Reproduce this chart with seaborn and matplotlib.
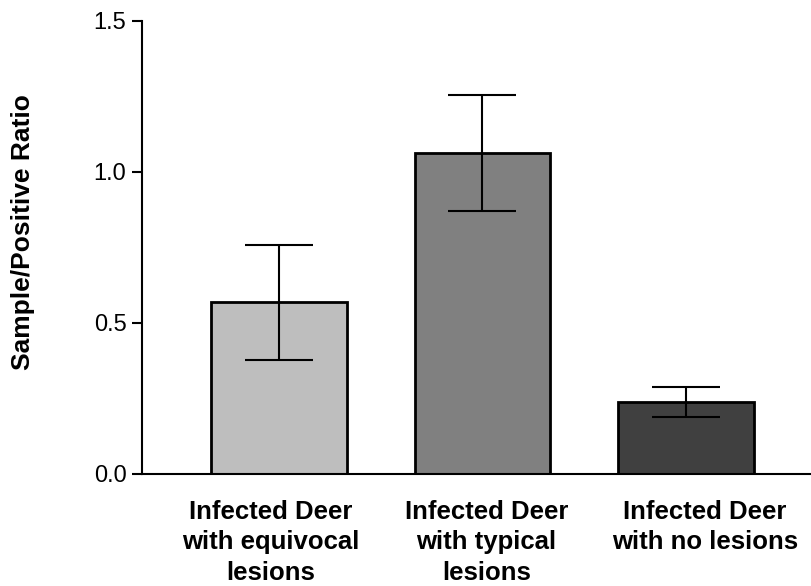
import matplotlib
matplotlib.use("Agg")
import matplotlib.pyplot as plt
import matplotlib.transforms as mtransforms
import seaborn as sns
import pandas as pd
import numpy as np

categories = ["Infected Deer\nwith equivocal\nlesions",
              "Infected Deer\nwith typical\nlesions",
              "Infected Deer\nwith no lesions"]
means = [0.569, 1.062, 0.239]
err_low = [0.378, 0.869, 0.190]
err_high = [0.758, 1.255, 0.287]
bar_colors = ["#bebebe", "#808080", "#404040"]
y_ticks = [0.0, 0.5, 1.0, 1.5]
y_tick_labels = ["0.0", "0.5", "1.0", "1.5"]
y_label = "Sample/Positive Ratio"
label_shift_pt = [-5.8, 2.9, 13.5]   # small horizontal offsets of the category labels

sns.set_theme(style="ticks", rc={
    "axes.edgecolor": "black", "axes.labelcolor": "black", "text.color": "black",
    "xtick.color": "black", "ytick.color": "black"})
plt.rcParams['font.family'] = ['Liberation Sans', 'DejaVu Sans']

df = pd.DataFrame({"group": categories, "ratio": means})

fig = plt.figure(figsize=(8.12, 5.86), dpi=100)
ax = fig.add_axes([142 / 812, 1 - 474 / 586, 670 / 812, (474 - 20.7) / 586])
sns.barplot(data=df, x="group", y="ratio", hue="group", palette=bar_colors,
            legend=False, width=0.668, edgecolor="black", linewidth=2,
            saturation=1, errorbar=None, ax=ax)

x = np.arange(len(categories))
m = np.array(means)
yerr = [m - np.array(err_low), np.array(err_high) - m]
ax.errorbar(x, m, yerr=yerr, fmt='none', ecolor='black', elinewidth=1.5,
            capsize=24.5, capthick=1.5, zorder=5)

ax.set_xlim(-0.673, 2.619)
ax.set_ylim(0, 1.5)
ax.set_yticks(y_ticks)
ax.set_yticklabels(y_tick_labels)
sns.despine(ax=ax)
for s in ["left", "bottom"]:
    ax.spines[s].set_linewidth(1.5)
ax.tick_params(axis='y', length=7.2, width=1.5, labelsize=17, pad=4)
ax.tick_params(axis='x', length=0, labelsize=18.5, pad=19)
for lab, dx in zip(ax.get_xticklabels(), label_shift_pt):
    lab.set_fontweight('bold')
    lab.set_linespacing(1.32)
    lab.set_transform(lab.get_transform() +
                      mtransforms.ScaledTranslation(dx / 72, 0, fig.dpi_scale_trans))
ax.set_xlabel("")
ax.set_ylabel(y_label, fontsize=19, fontweight='bold')
ax.yaxis.set_label_coords(-0.16, 0.534)

fig.savefig("out.png", dpi=100)
